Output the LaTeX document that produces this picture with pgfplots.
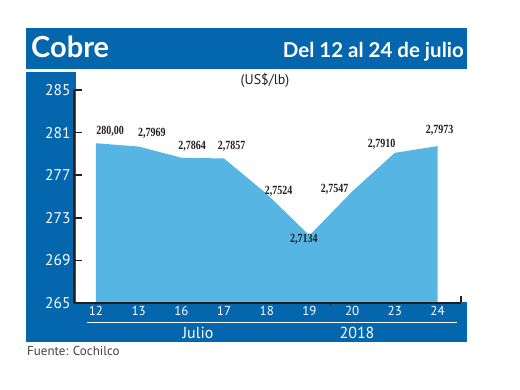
\documentclass[border=0pt]{standalone}
\usepackage{pgfplots}
\pgfplotsset{compat=1.18}
\usepackage{fontspec}
\setmainfont{PT Sans}
\newfontfamily\titlefont{Lato}
\newfontfamily\lblfont[FakeStretch=0.8]{Liberation Serif}
\definecolor{darkblue}{HTML}{0467AE}
\definecolor{areablue}{HTML}{57B5E3}
\definecolor{axisblack}{HTML}{231F20}
\begin{document}
\begin{tikzpicture}
\begin{axis}[
  scale only axis, width=387pt, height=213pt,
  xmin=-0.515, xmax=8.55, ymin=265, ymax=285,
  axis x line=bottom, axis y line=left,
  axis line style={line width=1.6pt, axisblack, -},
  ytick={265,269,273,277,281,285},
  xtick={0,...,8},
  xticklabels={12,13,16,17,18,19,20,23,24},
  x tick style={draw=none},
  y tick style={line width=1.6pt, axisblack},
  tick align=inside, major tick length=8pt,
  extra x ticks={5.5}, extra x tick labels={},
  extra x tick style={x tick style={draw=axisblack, line width=1.2pt}, tick align=outside, major tick length=3pt},
  /pgf/number format/assume math mode=true,
  yticklabel style={text=white, font=\fontsize{15.5}{17}\selectfont},
  xticklabel style={text=white, font=\fontsize{13}{15}\selectfont},
  clip=false,
  set layers=axis on top,
]
\coordinate (O) at (rel axis cs:0,0);
\begin{pgfonlayer}{axis background}
\fill[darkblue] ([xshift=-48pt,yshift=-39pt]O) rectangle ([xshift=2pt,yshift=231pt]O);
\fill[darkblue] ([xshift=-48pt,yshift=-39pt]O) rectangle ([xshift=393pt,yshift=1pt]O);
\end{pgfonlayer}
\addplot[fill=areablue, draw=none] coordinates {
 (0,280.00) (1,279.69) (2,278.64) (3,278.57) (4,275.24) (5,271.34) (6,275.47) (7,279.10) (8,279.73)
} \closedcycle;
\begin{scope}[every node/.style={font=\lblfont\bfseries\fontsize{12.5}{14}\selectfont, text=axisblack, inner sep=0pt}]
\node at (axis cs:0.33,281.15) {280,00};
\node at (axis cs:1.31,280.96) {2,7969};
\node at (axis cs:2.25,279.74) {2,7864};
\node at (axis cs:3.18,279.74) {2,7857};
\node at (axis cs:4.28,275.52) {2,7524};
\node at (axis cs:4.87,271.01) {2,7134};
\node at (axis cs:5.59,275.70) {2,7547};
\node at (axis cs:6.69,279.93) {2,7910};
\node at (axis cs:8.05,281.24) {2,7973};
\end{scope}
\end{axis}
\begin{scope}[shift={(O)}, xshift=-74pt, yshift=-87pt, x=1pt, y=1pt]
\path (0,0) rectangle (520,390);
\fill[darkblue] (26,321) rectangle (467,362);
\draw[line width=1.6pt, axisblack] (461,87.8) -- (461,94);
\node[anchor=west, text=white, inner sep=0pt, font=\titlefont\bfseries\fontsize{29}{31}\selectfont] at (31,343) {Cobre};
\node[anchor=east, text=white, inner sep=0pt, font=\titlefont\bfseries\fontsize{20.5}{22}\selectfont] at (464,338) {Del 12 al 24 de julio};
\node[text=axisblack, font=\fontsize{14}{16}\selectfont] at (265,310) {(US\$/lb)};
\draw[white, line width=0.9pt] (87,68) -- (457,68);
\node[text=white, font=\fontsize{16}{18}\selectfont] at (198,57) {Julio};
\node[text=white, font=\fontsize{16}{18}\selectfont] at (357,57) {2018};
\node[anchor=west, inner sep=0pt, text=axisblack!85, font=\fontsize{13}{15}\selectfont] at (27,39) {Fuente: Cochilco};
\end{scope}
\end{tikzpicture}
\end{document}
